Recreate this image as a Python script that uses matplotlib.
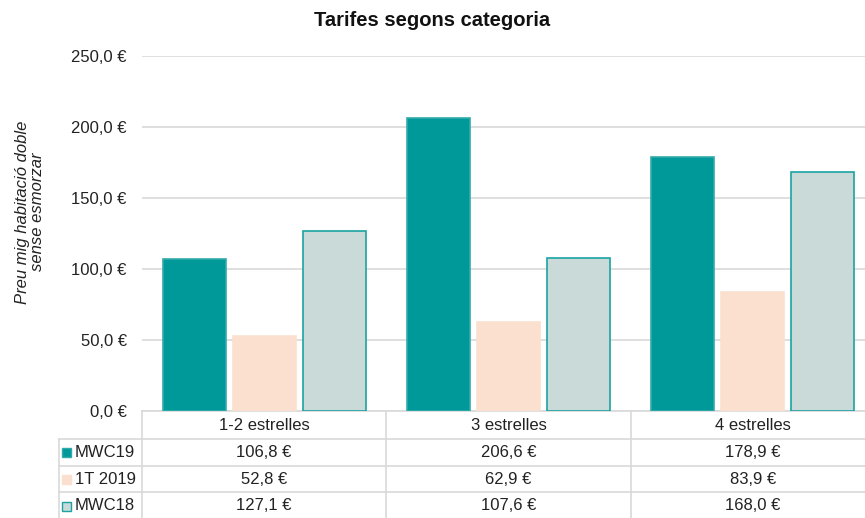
import matplotlib
matplotlib.use("Agg")
import matplotlib.pyplot as plt
from matplotlib.patches import Rectangle
from matplotlib.lines import Line2D
import numpy as np

plt.rcParams['font.family'] = ['Liberation Sans Narrow', 'Liberation Sans', 'DejaVu Sans']

categories = ["1-2 estrelles", "3 estrelles", "4 estrelles"]
series_names = ["MWC19", "1T 2019", "MWC18"]
mwc19 = [106.8, 206.6, 178.9]
t1_2019 = [52.8, 62.9, 83.9]
mwc18 = [127.1, 107.6, 168.0]
yticks = [0, 50, 100, 150, 200, 250]
title = "Tarifes segons categoria"
ylabel = "Preu mig habitació doble\nsense esmorzar"

face_colors = ["#009999", "#FBE0D0", "#C9DAD8"]
edge_colors = ["#33AAAA", "#FBE0D0", "#1AA3A3"]
series = [mwc19, t1_2019, mwc18]

def eur(v):
    return f"{v:.1f}".replace(".", ",") + " €"

W, H = 865, 518
fig = plt.figure(figsize=(W / 100, H / 100), dpi=100)
x0, x1 = 142, 875
y_top, y_zero = 56, 411
ax = fig.add_axes([x0 / W, 1 - y_zero / H, (x1 - x0) / W, (y_zero - y_top) / H])

n = len(categories)
x = np.arange(n)
bw = 0.258
step = 0.287
for i, (vals, fc, ec) in enumerate(zip(series, face_colors, edge_colors)):
    ax.bar(x + (i - 1) * step, vals, width=bw, color=fc, edgecolor=ec,
           linewidth=1.2, zorder=3)

ax.set_xlim(-0.5, n - 0.5)
ax.set_ylim(0, 250)
ax.set_yticks(yticks)
ax.set_yticklabels([eur(v) for v in yticks], fontsize=12, color="#222222")
ax.tick_params(axis='y', length=0, pad=11)
ax.set_xticks([])
ax.grid(axis='y', color="#D9D9D9", linewidth=1.2, zorder=0)
for s in ["top", "right", "left"]:
    ax.spines[s].set_visible(False)
ax.spines["bottom"].set_color("#D9D9D9")
ax.spines["bottom"].set_linewidth(1.2)

fig.text(0.5, 1 - 21 / H, title, ha="center", va="center", fontsize=14.5,
         fontweight="bold", color="#111111")
fig.text(30 / W, 1 - 212 / H, ylabel, rotation=90, ha="center", va="center",
         fontsize=12, style="italic", color="#222222", linespacing=1.0)

# data table drawn in pixel coordinates
def fx(px):
    return px / W

def fy(py):
    return 1 - py / H

line_c = "#D9D9D9"
col_edges = [x0 + (x1 - x0) * k / n for k in range(n + 1)]
label_left = 59
row_edges = [411, 439, 466, 492, 520]

def hline(y, xa, xb):
    fig.add_artist(Line2D([fx(xa), fx(xb)], [fy(y), fy(y)], color=line_c, lw=1.2))

def vline(xp, ya, yb):
    fig.add_artist(Line2D([fx(xp), fx(xp)], [fy(ya), fy(yb)], color=line_c, lw=1.2))

hline(row_edges[1], label_left, W)
hline(row_edges[2], label_left, W)
hline(row_edges[3], label_left, W)
for xe in col_edges[:-1]:
    vline(xe, row_edges[0], row_edges[-1])
vline(label_left, row_edges[1], row_edges[-1])

for j, cat in enumerate(categories):
    cx = (col_edges[j] + col_edges[j + 1]) / 2
    cy = (row_edges[0] + row_edges[1]) / 2 + 1
    fig.text(fx(cx), fy(cy), cat, ha="center", va="center", fontsize=12, color="#222222")

for i, (name, vals) in enumerate(zip(series_names, series)):
    cy = (row_edges[i + 1] + row_edges[i + 2]) / 2
    if i == 2:
        cy = row_edges[i + 1] + 14
    fig.add_artist(Rectangle((fx(62), fy(cy + 4.5)), 9 / W, 9 / H,
                             facecolor=face_colors[i], edgecolor=edge_colors[i],
                             lw=1.0, transform=fig.transFigure))
    fig.text(fx(75), fy(cy), name, ha="left", va="center", fontsize=12, color="#222222")
    for j, v in enumerate(vals):
        cx = (col_edges[j] + col_edges[j + 1]) / 2
        fig.text(fx(cx), fy(cy), eur(v), ha="center", va="center", fontsize=12,
                 color="#222222")

fig.savefig("out.png", dpi=100)
